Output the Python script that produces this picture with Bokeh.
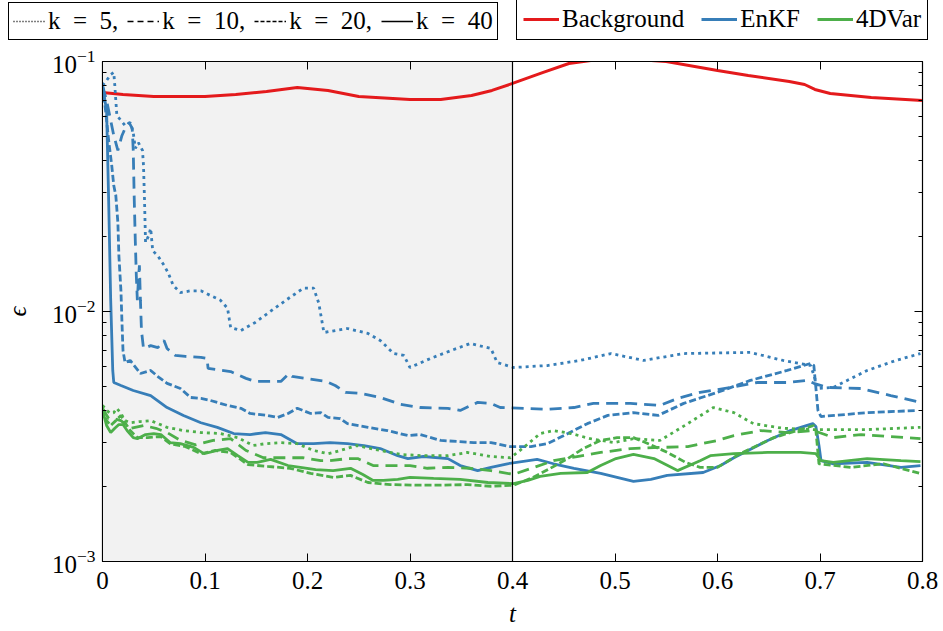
from bokeh.plotting import figure
from bokeh.layouts import column
from bokeh.models import (Range1d, LinearAxis, LogAxis, BoxAnnotation, Span,
                          Legend, LegendItem, FixedTicker, LogTickFormatter,
                          CustomLabelingPolicy)
from bokeh.embed import file_html
from bokeh.resources import INLINE

# ---------------- data ----------------
x_ticks = [0, 0.1, 0.2, 0.3, 0.4, 0.5, 0.6, 0.7, 0.8]
y_major = [1e-3, 1e-2, 1e-1]
y_minor = [2e-3, 3e-3, 4e-3, 5e-3, 6e-3, 7e-3, 8e-3, 9e-3,
           2e-2, 3e-2, 4e-2, 5e-2, 6e-2, 7e-2, 8e-2, 9e-2]
window_end = 0.4

t_bg = [0, 0.02, 0.05, 0.10, 0.13, 0.16, 0.19, 0.22, 0.25, 0.30, 0.33, 0.36, 0.38,
        0.40, 0.43, 0.455, 0.48, 0.52, 0.55, 0.60, 0.63, 0.67, 0.685, 0.695, 0.71, 0.75, 0.80]
bg = [0.0752, 0.0738, 0.0724, 0.0724, 0.0738, 0.0759, 0.0787, 0.0766, 0.0724, 0.0705, 0.0705,
      0.0731, 0.0766, 0.0817, 0.0904, 0.0982, 0.1014, 0.1019, 0.1000, 0.0920, 0.0879, 0.0832,
      0.0809, 0.0773, 0.0745, 0.0718, 0.0698]

t_enkf5 = [0, 0.004, 0.008, 0.011, 0.012, 0.014, 0.018, 0.022, 0.027, 0.030,
           0.032, 0.035, 0.039, 0.040, 0.041, 0.042, 0.045, 0.047, 0.049, 0.054,
           0.060, 0.064, 0.069, 0.076, 0.086, 0.096, 0.105, 0.115, 0.122, 0.125,
           0.135, 0.149, 0.161, 0.179, 0.196, 0.206, 0.211, 0.216, 0.227, 0.239,
           0.259, 0.271, 0.284, 0.294, 0.300, 0.320, 0.340, 0.359, 0.379, 0.385,
           0.401, 0.434, 0.466, 0.496, 0.528, 0.567, 0.632, 0.664, 0.691, 0.698,
           0.713, 0.746, 0.774, 0.798]
enkf5 = [0.0802, 0.0839, 0.0887, 0.0904, 0.0802, 0.0608, 0.0581, 0.0555, 0.0570, 0.0520,
         0.0449, 0.0474, 0.0441, 0.0384, 0.0278, 0.0189, 0.0201, 0.0215, 0.0175, 0.0167,
         0.0153, 0.0143, 0.0127, 0.0119, 0.0121, 0.0121, 0.0116, 0.0111, 0.0103, 0.00863,
         0.00839, 0.00904, 0.00982, 0.0111, 0.0124, 0.0124, 0.0108, 0.00824, 0.00839, 0.00855,
         0.00817, 0.00766, 0.00679, 0.00667, 0.00597, 0.00649, 0.00698, 0.00745, 0.00711, 0.00625,
         0.00597, 0.00608, 0.00637, 0.00679, 0.00637, 0.00679, 0.00686, 0.00637, 0.00608, 0.00492,
         0.00497, 0.00581, 0.00637, 0.00679]

t_enkf10 = [0, 0.004, 0.008, 0.011, 0.015, 0.019, 0.022, 0.026, 0.029, 0.030,
            0.031, 0.032, 0.033, 0.034, 0.035, 0.036, 0.037, 0.038, 0.040, 0.047,
            0.054, 0.060, 0.063, 0.071, 0.081, 0.096, 0.102, 0.103, 0.125, 0.140,
            0.149, 0.174, 0.182, 0.185, 0.198, 0.218, 0.227, 0.237, 0.252, 0.271,
            0.291, 0.310, 0.337, 0.349, 0.366, 0.379, 0.388, 0.434, 0.460, 0.479,
            0.515, 0.544, 0.561, 0.583, 0.613, 0.639, 0.668, 0.688, 0.694, 0.707,
            0.740, 0.769, 0.798]
enkf10 = [0.0802, 0.0698, 0.0581, 0.0506, 0.0441, 0.0506, 0.0540, 0.0570, 0.0540, 0.0441,
          0.0278, 0.0192, 0.0139, 0.0111, 0.0133, 0.0153, 0.0111, 0.00840, 0.00711, 0.00730,
          0.00717, 0.00766, 0.00711, 0.00667, 0.00661, 0.00655, 0.00649, 0.00592, 0.00575, 0.00540,
          0.00525, 0.00525, 0.00565, 0.00550, 0.00540, 0.00525, 0.00506, 0.00475, 0.00470, 0.00453,
          0.00425, 0.00413, 0.00410, 0.00402, 0.00433, 0.00429, 0.00413, 0.00406, 0.00413, 0.00429,
          0.00429, 0.00421, 0.00449, 0.00475, 0.00497, 0.00520, 0.00520, 0.00530, 0.00516, 0.00497,
          0.00492, 0.00461, 0.00433]

t_enkf20 = [0, 0.003, 0.006, 0.009, 0.011, 0.013, 0.015, 0.016, 0.018, 0.019,
            0.020, 0.022, 0.027, 0.037, 0.047, 0.055, 0.063, 0.076, 0.086, 0.096,
            0.105, 0.122, 0.135, 0.144, 0.161, 0.171, 0.181, 0.190, 0.203, 0.213,
            0.220, 0.232, 0.239, 0.259, 0.278, 0.298, 0.310, 0.330, 0.362, 0.379,
            0.398, 0.418, 0.434, 0.454, 0.473, 0.493, 0.518, 0.542, 0.567, 0.600,
            0.632, 0.668, 0.691, 0.694, 0.698, 0.701, 0.746, 0.795]
enkf20 = [0.0802, 0.0637, 0.0483, 0.0384, 0.0319, 0.0291, 0.0227, 0.0167, 0.0121, 0.00904,
          0.00698, 0.00625, 0.00637, 0.00565, 0.00581, 0.00545, 0.00516, 0.00492, 0.00453, 0.00449,
          0.00441, 0.00421, 0.00410, 0.00391, 0.00384, 0.00377, 0.00391, 0.00410, 0.00391, 0.00394,
          0.00377, 0.00373, 0.00356, 0.00344, 0.00334, 0.00319, 0.00322, 0.00305, 0.00299, 0.00299,
          0.00288, 0.00288, 0.00296, 0.00325, 0.00356, 0.00384, 0.00394, 0.00384, 0.00429, 0.00475,
          0.00530, 0.00581, 0.00620, 0.00608, 0.00402, 0.00380, 0.00394, 0.00402]

t_enkf40 = [0, 0.004, 0.006, 0.008, 0.010, 0.011, 0.018, 0.030, 0.047, 0.063,
            0.079, 0.096, 0.112, 0.128, 0.144, 0.159, 0.174, 0.190, 0.206, 0.222,
            0.239, 0.255, 0.271, 0.288, 0.298, 0.313, 0.337, 0.349, 0.366, 0.379,
            0.395, 0.424, 0.440, 0.460, 0.486, 0.518, 0.535, 0.551, 0.586, 0.603,
            0.616, 0.649, 0.671, 0.693, 0.696, 0.699, 0.701, 0.713, 0.746, 0.779,
            0.798]
enkf40 = [0.0802, 0.0637, 0.0278, 0.0111, 0.00581, 0.00520, 0.00506, 0.00483, 0.00461, 0.00413,
          0.00384, 0.00359, 0.00344, 0.00325, 0.00322, 0.00328, 0.00322, 0.00296, 0.00296, 0.00299,
          0.00296, 0.00291, 0.00283, 0.00265, 0.00258, 0.00263, 0.00258, 0.00242, 0.00231, 0.00238,
          0.00246, 0.00256, 0.00246, 0.00236, 0.00225, 0.00209, 0.00213, 0.00221, 0.00227, 0.00242,
          0.00260, 0.00305, 0.00334, 0.00356, 0.00347, 0.00291, 0.00253, 0.00246, 0.00249, 0.00238,
          0.00242]

t_4dv5 = [0, 0.004, 0.008, 0.011, 0.014, 0.018, 0.022, 0.027, 0.037, 0.047,
          0.063, 0.079, 0.096, 0.115, 0.132, 0.147, 0.159, 0.174, 0.190, 0.206,
          0.220, 0.232, 0.248, 0.271, 0.291, 0.313, 0.337, 0.356, 0.379, 0.398,
          0.411, 0.427, 0.440, 0.457, 0.476, 0.499, 0.518, 0.544, 0.571, 0.596,
          0.616, 0.635, 0.664, 0.694, 0.746, 0.798]
fdvar5 = [0.00421, 0.00402, 0.00391, 0.00394, 0.00410, 0.00391, 0.00366, 0.00359, 0.00363, 0.00366,
          0.00344, 0.00334, 0.00328, 0.00325, 0.00313, 0.00291, 0.00296, 0.00299, 0.00296, 0.00278,
          0.00270, 0.00278, 0.00291, 0.00278, 0.00268, 0.00265, 0.00265, 0.00273, 0.00263, 0.00260,
          0.00286, 0.00325, 0.00334, 0.00325, 0.00310, 0.00299, 0.00310, 0.00305, 0.00356, 0.00413,
          0.00394, 0.00356, 0.00341, 0.00337, 0.00337, 0.00344]

t_4dv10 = [0, 0.006, 0.011, 0.018, 0.027, 0.040, 0.052, 0.063, 0.076, 0.091,
           0.108, 0.125, 0.140, 0.157, 0.171, 0.196, 0.213, 0.222, 0.239, 0.249,
           0.264, 0.300, 0.317, 0.337, 0.359, 0.379, 0.401, 0.421, 0.440, 0.463,
           0.486, 0.515, 0.544, 0.571, 0.600, 0.616, 0.642, 0.668, 0.694, 0.713,
           0.740, 0.798]
fdvar10 = [0.00410, 0.00373, 0.00373, 0.00366, 0.00341, 0.00350, 0.00341, 0.00328, 0.00305, 0.00293,
           0.00305, 0.00310, 0.00278, 0.00260, 0.00260, 0.00260, 0.00253, 0.00253, 0.00258, 0.00258,
           0.00242, 0.00242, 0.00236, 0.00238, 0.00236, 0.00231, 0.00223, 0.00238, 0.00253, 0.00263,
           0.00273, 0.00283, 0.00286, 0.00288, 0.00305, 0.00319, 0.00334, 0.00328, 0.00334, 0.00313,
           0.00322, 0.00310]

t_4dv20 = [0, 0.004, 0.008, 0.013, 0.018, 0.022, 0.027, 0.034, 0.044, 0.057,
           0.066, 0.081, 0.096, 0.110, 0.125, 0.142, 0.161, 0.183, 0.203, 0.225,
           0.242, 0.259, 0.281, 0.307, 0.330, 0.356, 0.379, 0.401, 0.418, 0.437,
           0.454, 0.469, 0.486, 0.502, 0.518, 0.535, 0.551, 0.569, 0.583, 0.600,
           0.622, 0.655, 0.694, 0.696, 0.699, 0.730, 0.762, 0.798]
fdvar20 = [0.00410, 0.00366, 0.00350, 0.00366, 0.00384, 0.00359, 0.00334, 0.00313, 0.00313, 0.00316,
           0.00296, 0.00288, 0.00270, 0.00278, 0.00273, 0.00244, 0.00240, 0.00236, 0.00225, 0.00217,
           0.00221, 0.00207, 0.00203, 0.00202, 0.00202, 0.00203, 0.00200, 0.00202, 0.00215, 0.00236,
           0.00258, 0.00283, 0.00305, 0.00313, 0.00313, 0.00293, 0.00273, 0.00249, 0.00238, 0.00238,
           0.00270, 0.00313, 0.00350, 0.00334, 0.00246, 0.00238, 0.00246, 0.00225]

t_4dv40 = [0, 0.004, 0.008, 0.012, 0.016, 0.020, 0.024, 0.030, 0.034, 0.042,
           0.050, 0.057, 0.066, 0.076, 0.089, 0.099, 0.112, 0.122, 0.132, 0.142,
           0.151, 0.164, 0.181, 0.193, 0.208, 0.225, 0.242, 0.254, 0.264, 0.274,
           0.288, 0.300, 0.323, 0.349, 0.376, 0.401, 0.415, 0.427, 0.447, 0.473,
           0.486, 0.501, 0.518, 0.538, 0.561, 0.583, 0.593, 0.616, 0.649, 0.681,
           0.696, 0.701, 0.713, 0.746, 0.779, 0.798]
fdvar40 = [0.00402, 0.00350, 0.00328, 0.00341, 0.00353, 0.00353, 0.00334, 0.00313, 0.00310, 0.00322,
           0.00325, 0.00322, 0.00299, 0.00296, 0.00286, 0.00270, 0.00278, 0.00283, 0.00265, 0.00249,
           0.00249, 0.00256, 0.00242, 0.00238, 0.00233, 0.00231, 0.00236, 0.00223, 0.00211, 0.00211,
           0.00213, 0.00217, 0.00215, 0.00213, 0.00207, 0.00205, 0.00211, 0.00219, 0.00225, 0.00227,
           0.00242, 0.00258, 0.00268, 0.00258, 0.00231, 0.00253, 0.00265, 0.00270, 0.00273, 0.00273,
           0.00270, 0.00253, 0.00249, 0.00258, 0.00253, 0.00251]

k_values = [5, 10, 20, 40]
k_labels = ["k\u2002=\u20025,", "k\u2002=\u200210,", "k\u2002=\u200220,", "k\u2002=\u200240"]
method_labels = ["Background", "EnKF", "4DVar"]

# ---------------- styling ----------------
RED, BLUE, GREEN = "#e41a1c", "#377eb8", "#4daf4a"
FONT = "Liberation Serif"
FS = "25px"
DASH = {5: "3 4", 10: "12 7", 20: "7 3", 40: "solid"}
LEG_DASH = {5: "1 2", 10: "6 4", 20: "4 2", 40: "solid"}
W = 943
NAN = float("nan")

p = figure(width=W, height=586, x_range=Range1d(0, 0.8), y_range=Range1d(1e-3, 1e-1),
           y_axis_type="log", output_backend="svg", toolbar_location=None,
           min_border_left=102, min_border_right=21, min_border_top=16, min_border_bottom=70)
p.frame_align = False
p.xgrid.visible = False
p.ygrid.visible = False
p.outline_line_color = "black"
p.outline_line_width = 1.2
p.outline_line_alpha = 1

p.add_layout(BoxAnnotation(left=0, right=window_end, fill_color="#f2f2f2", fill_alpha=1,
                           line_color=None, level="underlay"))
p.add_layout(Span(location=window_end, dimension="height", line_color="black", line_width=1.2))

p.line(t_bg, bg, line_color=RED, line_width=3)

enkf_series = [(t_enkf5, enkf5), (t_enkf10, enkf10), (t_enkf20, enkf20), (t_enkf40, enkf40)]
fdvar_series = [(t_4dv5, fdvar5), (t_4dv10, fdvar10), (t_4dv20, fdvar20), (t_4dv40, fdvar40)]

for k, (t, v) in zip(k_values, enkf_series):
    p.line(t, v, line_color=BLUE, line_width=2.8, line_dash=DASH[k])
for k, (t, v) in zip(k_values, fdvar_series):
    p.line(t, v, line_color=GREEN, line_width=2.8, line_dash=DASH[k])

# axes
bottom = p.below[0]
left = p.left[0]
bottom.ticker = FixedTicker(ticks=x_ticks)
bottom.major_label_overrides = {0: "0"}
left.ticker = FixedTicker(ticks=y_major, minor_ticks=y_minor)
left.formatter = LogTickFormatter()

top = LinearAxis(ticker=FixedTicker(ticks=x_ticks))
right = LogAxis(ticker=FixedTicker(ticks=y_major, minor_ticks=y_minor))
p.add_layout(top, "above")
p.add_layout(right, "right")

for ax in (bottom, left, top, right):
    ax.major_tick_in = 8
    ax.major_tick_out = 0
    ax.minor_tick_in = 4
    ax.minor_tick_out = 0
    ax.axis_line_color = "black"
    ax.major_tick_line_color = "black"
    ax.minor_tick_line_color = "black"
    ax.major_label_text_font = FONT
    ax.major_label_text_font_size = FS
    ax.major_label_text_color = "black"
for ax in (top, right):
    # mirrored tick marks only: labels are filtered out and take no room
    ax.major_label_policy = CustomLabelingPolicy(code="return []")
    ax.major_label_text_font_size = "1px"
    ax.major_label_standoff = 0

bottom.major_label_standoff = 10
left.major_label_standoff = 7
bottom.axis_label = "t"
left.axis_label = "ϵ"
for ax in (bottom, left):
    ax.axis_label_text_font = FONT
    ax.axis_label_text_font_size = FS
    ax.axis_label_text_font_style = "italic"
    ax.axis_label_text_color = "black"
    ax.axis_label_standoff = 8
left.axis_label_standoff = 18

# ---------------- legends (own strip above the plot) ----------------
lp = figure(width=W, height=45, x_range=Range1d(0, 1), y_range=Range1d(0, 1),
            x_axis_location=None, y_axis_location=None,
            output_backend="svg", toolbar_location=None, min_border=0)
lp.frame_align = False
lp.xgrid.visible = False
lp.ygrid.visible = False
lp.outline_line_color = None

dummy_k = [lp.line(x=[NAN], y=[NAN], line_color="black", line_width=1.4, line_dash=LEG_DASH[k])
           for k in k_values]
dummy_m = [lp.line(x=[NAN], y=[NAN], line_color=c, line_width=3) for c in (RED, BLUE, GREEN)]

def style_legend(leg):
    leg.orientation = "horizontal"
    leg.label_text_font = FONT
    leg.label_text_font_size = FS
    leg.label_text_color = "black"
    leg.border_line_color = "black"
    leg.border_line_width = 1
    leg.border_line_alpha = 1
    leg.background_fill_color = "white"
    leg.background_fill_alpha = 1
    leg.glyph_width = 32
    leg.glyph_height = 20
    leg.label_standoff = 3
    leg.spacing = 9
    leg.padding = 4
    leg.margin = 0
    leg.label_height = 22

leg1 = Legend(items=[LegendItem(label=lab, renderers=[r]) for lab, r in zip(k_labels, dummy_k)],
              location=(8, 5))
style_legend(leg1)
lp.add_layout(leg1)

leg2 = Legend(items=[LegendItem(label=lab, renderers=[r]) for lab, r in zip(method_labels, dummy_m)],
              location=(516, 5))
style_legend(leg2)
leg2.glyph_width = 36
leg2.spacing = 17
leg2.padding = 6
lp.add_layout(leg2)

layout = column(lp, p, spacing=0)
open("out.html", "w").write(file_html(layout, INLINE))
